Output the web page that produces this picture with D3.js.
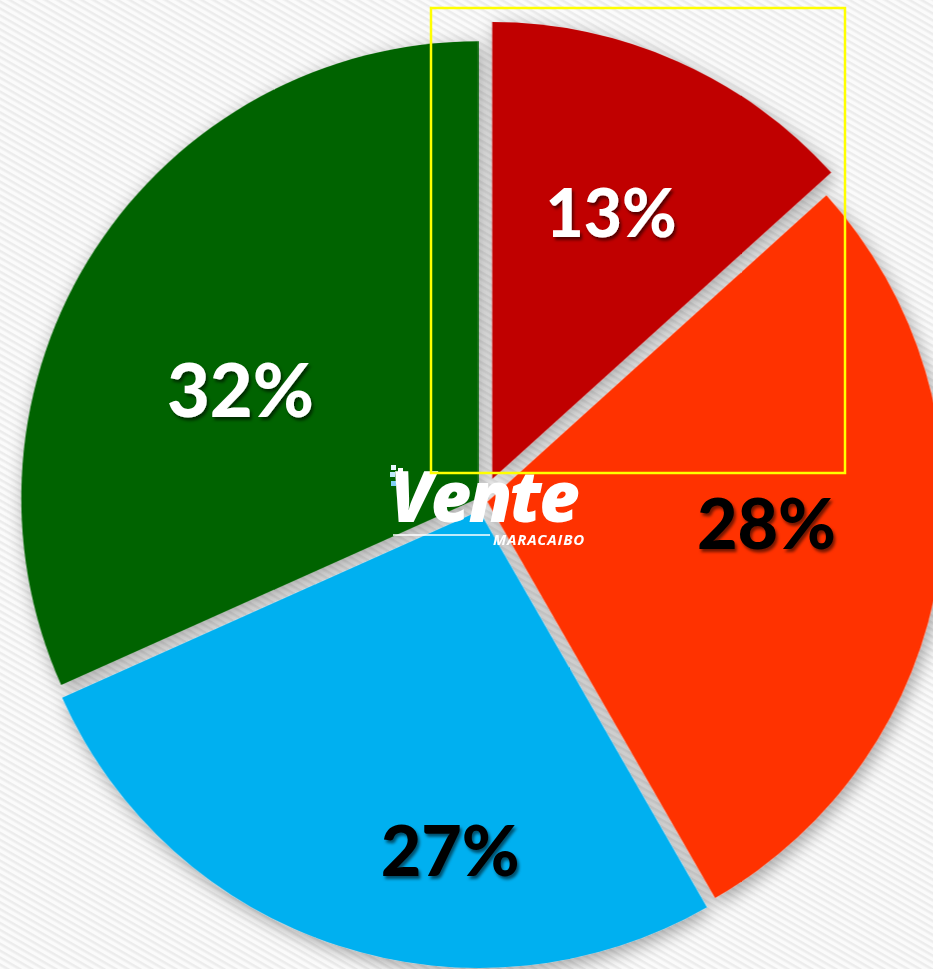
<!DOCTYPE html>
<html>
<head>
<meta charset="utf-8">
<script src="https://cdn.jsdelivr.net/npm/d3@7"></script>
<style>
  html, body { margin: 0; padding: 0; background: #fafafa; }
  svg { display: block; }
</style>
</head>
<body>
<script>
// ---- data ----
const categories = ["A", "B", "C", "D"];
const values = [13.3, 28.4, 26.6, 31.7];
const colors = ["#C00000", "#FF3300", "#00B0F0", "#006300"];
const labelColors = ["#ffffff", "#000000", "#000000", "#ffffff"];

// ---- layout ----
const W = 933, H = 969;
const cx = 482.5, cy = 501, R = 457;
const explode = [24, 5, 10.5, 5];
const labelPolar = [ // angle (deg, clockwise from top), radius fraction, font size
  {a: 23.9, r: 0.694, fs: 66},
  {a: 94.2, r: 0.623, fs: 70},
  {a: 185.3, r: 0.765, fs: 70},
  {a: 294.9, r: 0.584, fs: 74}
];

const svg = d3.select("body").append("svg").attr("width", W).attr("height", H);
const defs = svg.append("defs");

// background stripes
const pat = defs.append("pattern").attr("id", "bg").attr("patternUnits", "userSpaceOnUse")
  .attr("width", 6).attr("height", 6).attr("patternTransform", "rotate(30)");
pat.append("rect").attr("width", 6).attr("height", 6).attr("fill", "#fbfbfb");
pat.append("rect").attr("width", 6).attr("height", 2.5).attr("fill", "#ececec");
svg.append("rect").attr("width", W).attr("height", H).attr("fill", "url(#bg)");

// shadows
const sh = defs.append("filter").attr("id", "pieShadow")
  .attr("x", "-20%").attr("y", "-20%").attr("width", "140%").attr("height", "140%");
sh.append("feDropShadow").attr("dx", 3).attr("dy", 5).attr("stdDeviation", 9)
  .attr("flood-color", "#000").attr("flood-opacity", 0.35);

const ts = defs.append("filter").attr("id", "txtShadow")
  .attr("x", "-20%").attr("y", "-20%").attr("width", "140%").attr("height", "140%");
ts.append("feDropShadow").attr("dx", 2).attr("dy", 3).attr("stdDeviation", 1.5)
  .attr("flood-color", "#000").attr("flood-opacity", 0.55);

const pie = d3.pie().sort(null).value(d => d);
const arcs = pie(values);
const arc = d3.arc().innerRadius(0).outerRadius(R);

const g = svg.append("g").attr("transform", `translate(${cx},${cy})`).attr("filter", "url(#pieShadow)");
g.selectAll("path").data(arcs).enter().append("path")
  .attr("d", arc)
  .attr("fill", (d, i) => colors[i])
  .attr("transform", (d, i) => {
    const m = (d.startAngle + d.endAngle) / 2;
    return `translate(${explode[i] * Math.sin(m)},${-explode[i] * Math.cos(m)})`;
  });

// labels
const lg = svg.append("g").attr("transform", `translate(${cx},${cy})`);
lg.selectAll("text").data(arcs).enter().append("text")
  .attr("x", (d, i) => labelPolar[i].r * R * Math.sin(labelPolar[i].a * Math.PI / 180))
  .attr("y", (d, i) => -labelPolar[i].r * R * Math.cos(labelPolar[i].a * Math.PI / 180))
  .attr("text-anchor", "middle")
  .attr("dominant-baseline", "central")
  .attr("font-family", "Lato, 'Open Sans', sans-serif")
  .attr("font-weight", 900)
  .attr("font-size", (d, i) => labelPolar[i].fs)
  .attr("fill", (d, i) => labelColors[i])
  .attr("filter", "url(#txtShadow)")
  .text(d => Math.round(d.data) + "%");

// logo
const logo = svg.append("g");
const sq = [[391,465,"#e8f6fc"],[398,468,"#ffffff"],[390,472,"#bfe8f8"],[396,476,"#ffffff"],[402,473,"#9fdcf5"],[391,481,"#7fd0f2"],[397,485,"#bfe8f8"]];
logo.selectAll("rect.px").data(sq).enter().append("rect")
  .attr("x", d => d[0]).attr("y", d => d[1]).attr("width", 5).attr("height", 5).attr("fill", d => d[2]);
logo.append("text").attr("x", 390).attr("y", 522)
  .attr("font-family", "'Open Sans', sans-serif").attr("font-weight", 800).attr("font-style", "italic")
  .attr("font-size", 70).attr("letter-spacing", -2.5).attr("fill", "#ffffff").text("Vente");
logo.append("line").attr("x1", 393).attr("x2", 490).attr("y1", 535).attr("y2", 535)
  .attr("stroke", "#ffffff").attr("stroke-width", 1.5);
logo.append("text").attr("x", 493).attr("y", 545)
  .attr("font-family", "'Open Sans', sans-serif").attr("font-weight", 700).attr("font-style", "italic")
  .attr("font-size", 15).attr("letter-spacing", 0.8).attr("fill", "#ffffff").text("MARACAIBO");

// highlight box
svg.append("rect").attr("x", 431).attr("y", 8).attr("width", 414).attr("height", 465)
  .attr("fill", "none").attr("stroke", "#ffff00").attr("stroke-width", 2.5);
</script>
</body>
</html>
